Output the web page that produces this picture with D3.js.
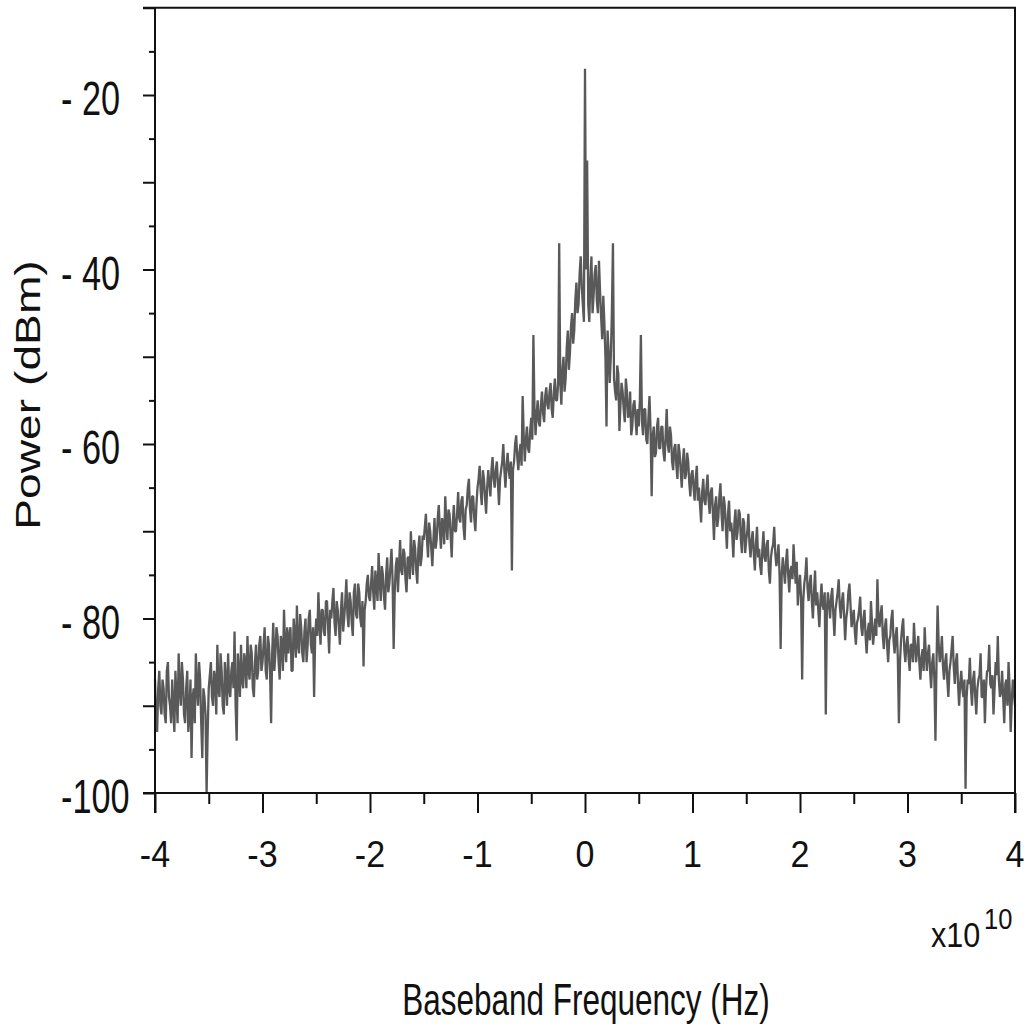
<!DOCTYPE html>
<html><head><meta charset="utf-8">
<script src="https://cdn.jsdelivr.net/npm/d3@7"></script>
<style>body{margin:0;background:#fff}</style>
</head><body>
<svg id="c" width="1029" height="1030"></svg>
<script>
const xTicks = [-4,-3,-2,-1,0,1,2,3,4];
const xMinorTicks = [-3.5,-2.5,-1.5,-0.5,0.5,1.5,2.5,3.5];
const yMajorTicks = [-10,-20,-30,-40,-50,-60,-70,-80,-90,-100];
const yMinorTicks = [-15,-25,-35,-45,-55,-65,-75,-85,-95];
const yLabelValues = [-20,-40,-60,-80,-100];
const yLabelText = ["- 20","- 40","- 60","- 80","-100"];
const xTitle = "Baseband Frequency (Hz)";
const yTitle = "Power (dBm)";
const freqStart = -4, freqStep = 0.02; // x 10^10 Hz
// power (dBm) at f = -4.00, -3.98, ..., 4.00
const power = [
-87,-93,-86,-91,-88,-92,-85,-90,-87,-93,-89,-84,-90,-87,-92,-86,-91,-96,-88,-84,-90,-87,-96,-89,-100,
-88,-85,-90,-87,-83,-89,-86,-91,-87,-84,-89,-85,-81.5,-94,-86,-83,-88,-85,-82,-87,-84,-89,-83,-86,-82,
-85,-81,-87,-83,-92,-80.5,-84,-82,-87,-83,-79,-85,-84,-81,-86,-82,-78.5,-84,-81,-85,-80,-83,-79,-84,-89,
-80,-77,-83,-79,-82,-78,-84,-80,-76.5,-82,-79,-83,-77,-80,-75.5,-81,-78,-82,-76,-80,-77,-81,-85.5,-78,-75,
-78,-74,-79,-76,-72.5,-78,-75,-79,-73,-76,-72,-83.5,-74,-77,-71,-75,-72.5,-77,-73,-70,-75,-72,-76,-70.5,-73,
-71,-68,-73,-70,-74,-68.5,-71,-67,-72,-69,-66,-71,-68,-73,-67,-70,-65.5,-69,-66,-71,-67,-64,-69,-66,-70,
-65,-62.5,-67,-64,-68,-63,-66,-61.5,-65,-62,-67,-63,-60,-65,-61,-64,-74.5,-62,-59,-63,-60,-54.5,-62,-58,-61,
-57,-47.5,-59,-55,-58,-54,-57.5,-53.5,-56,-53,-57,-52.5,-55,-37,-55.5,-50,-52.5,-47,-49.5,-45,-47,-41.5,-44,-38.5,-44,
-17,-27.5,-46,-38.5,-43,-39.5,-45,-42.5,-48,-46,-58,-49.5,-50,-37,-54,-51,-58.5,-53,-56,-52.5,-57,-54,-58,-55,-59,
-58,-47.5,-59,-56,-60,-54.5,-66,-58,-61,-57,-60.5,-58,-62,-56,-61,-59,-63,-60,-64,-61,-65,-60.5,-63.5,-62,-66,
-63,-66.5,-62.5,-65,-69,-64,-67,-63.5,-68,-65,-71,-66,-68.5,-64.5,-70,-67,-72,-66.5,-69,-73,-67.5,-70,-68,-72.5,-69,
-71,-68,-73,-70,-74.5,-69.5,-72,-75,-70,-73.5,-71,-76,-72,-69.5,-74,-71.5,-83.5,-73,-76,-72,-77,-74,-71.5,-76,-78.5,
-75,-87,-76,-73,-78,-75,-80,-74.5,-77,-81,-76,-79,-91,-77,-80,-76.5,-82,-78,-75.5,-80,-77,-82.5,-79,-76,-81,
-79,-83,-80,-77.5,-82,-79,-84,-80.5,-78,-83,-80,-75.5,-81,-78.5,-83.5,-80,-85,-82,-79,-84,-81,-92,-82.5,-80,-85,
-82,-86,-83,-80.5,-85,-82,-87,-83.5,-81,-86,-83,-88,-84,-94,-78.5,-85,-82,-87,-84,-89,-85,-82,-87.5,-84,-90,
-86,-89,-99.5,-87,-84.5,-90,-86,-91,-87,-84,-89,-92,-86,-83,-88,-91,-85,-82,-89,-86,-92,-87,-85,-93,-87,-90
];
// power (dBm) at the in-between frequencies f = -3.99, -3.97, ..., 3.99
const powerMid = [
-91,-88,-90,-87,-91,-86,-89,-92,-90,-86,-92,-88,-85,-91,-88,-93,-87,-89,-92,-88,-85,-92,-88,-91,-93,
-86.5,-89,-86,-91,-88,-84,-90,-85,-90,-88,-86,-88,-90,-84,-89,-87,-84,-88,-86,-83,-88,-85,-87,-83,-86,
-83,-86,-82,-86,-84,-86,-81,-85,-82,-86,-83,-81,-82,-86,-80,-84.5,-83,-79.5,-84,-81.5,-85,-80,-83,-81,-82,
-82,-80.5,-79,-81.5,-78,-81,-79,-78,-80.5,-78,-81,-79,-81.5,-78,-79.5,-77,-80.5,-77,-79.5,-76,-80,-78,-79,-76,-77.5,
-76,-77,-74.5,-78,-75.5,-74,-77.5,-75,-77,-74,-75.5,-77,-73,-74,-74.5,-72,-75.5,-73,-75.5,-73,-71,-74.5,-72,-74,-70.5,
-69.5,-71,-69,-72,-71,-72,-68.5,-70,-68.5,-71.5,-69,-67.5,-70.5,-69,-70,-68,-68.5,-66.5,-69.5,-67.5,-65,-67.5,-66,-68.5,-67,
-64,-65.5,-63,-66,-65,-64.5,-63,-64,-63,-64.5,-64,-62,-63,-62.5,-63,-62,-63,-60,-61.5,-61,-62.5,-59,-59.5,-60.5,-58.5,
-59.5,-56,-56.5,-57.5,-55.5,-56.5,-54.5,-55.5,-54,-56,-54,-55,-53,-53,-51.5,-54,-49,-51.5,-46.5,-48.5,-43.5,-45,-40.5,-42,-46,
-40,-44,-41,-45,-40.5,-43.5,-39,-45.5,-43,-50,-47,-53,-45,-52.5,-55,-52,-55.5,-54,-57.5,-54,-56.5,-59,-55.5,-57,-56,
-55,-57.5,-56,-59.5,-57,-58.5,-59,-61.5,-58,-60.5,-58,-61,-59,-60,-58,-62,-60.5,-62.5,-60,-63,-62,-64,-61,-64.5,-63.5,
-65,-64,-66.5,-67,-65.5,-66.5,-65,-66.5,-65.5,-68,-67,-69.5,-66,-68,-66,-69.5,-68,-70,-70.5,-69,-71,-67.5,-71,-68.5,-72.5,
-70,-71.5,-71,-72.5,-71.5,-73,-74,-72,-73,-71.5,-74.5,-73,-71.5,-72.5,-73,-75,-75,-74.5,-73.5,-75,-74.5,-75.5,-74,-73.5,-76.5,
-77.5,-78,-75,-76.5,-76,-78,-77,-78.5,-79,-78,-78.5,-77,-79,-78.5,-77.5,-79.5,-79,-77,-78.5,-78,-79.5,-80,-77,-78.5,-80,
-81.5,-80.5,-79,-81,-80,-82,-81.5,-82.5,-80.5,-81.5,-82,-80,-79.5,-82,-81,-83,-82.5,-80,-82.5,-82,-84.5,-85,-81,-83.5,-83,
-84.5,-83,-85,-83,-83.5,-85,-84.5,-86,-84,-84,-86,-85,-87,-85,-83,-84,-85.5,-85,-87,-86,-83.5,-85.5,-85,-87.5,-87.5,
-88,-87,-89,-87.5,-88,-87,-89,-88,-86.5,-89,-87,-88,-86,-87.5,-86.5,-88,-86.5,-87,-88.5,-89,-87.5,-90,-88,-89.5,-88.5
];

const svg = d3.select("#c");
const L = 155, R = 1015, T = 7.75, B = 793;
const x = d3.scaleLinear().domain([-4, 4]).range([L, R]);
const y = d3.scaleLinear().domain([-100, -10]).range([B, T]);
const ink = "#111";

const data = [];
power.forEach((p, i) => {
  const f = freqStart + i * freqStep;
  data.push({f, p});
  if (i < powerMid.length) data.push({f: f + freqStep / 2, p: powerMid[i]});
});

// data line
const line = d3.line().x(d => x(d.f)).y(d => y(d.p));
svg.append("path").datum(data)
  .attr("d", line)
  .attr("fill", "none")
  .attr("stroke", "#595959")
  .attr("stroke-width", 2.3)
  .attr("stroke-linejoin", "bevel");

// axes ticks
const gx = svg.append("g").attr("transform", `translate(0,${B})`)
  .call(d3.axisBottom(x).tickValues(xTicks).tickSize(20).tickFormat(""));
const gxm = svg.append("g").attr("transform", `translate(0,${B})`)
  .call(d3.axisBottom(x).tickValues(xMinorTicks).tickSize(11).tickFormat(""));
const gy = svg.append("g").attr("transform", `translate(${L},0)`)
  .call(d3.axisLeft(y).tickValues(yMajorTicks).tickSize(12).tickFormat(""));
const gym = svg.append("g").attr("transform", `translate(${L},0)`)
  .call(d3.axisLeft(y).tickValues(yMinorTicks).tickSize(6).tickFormat(""));
[gx, gxm, gy, gym].forEach(g => {
  g.select(".domain").remove();
  g.selectAll(".tick line").attr("stroke", ink).attr("stroke-width", 2);
});

// frame
const frame = svg.append("g").attr("stroke", ink).attr("stroke-width", 2).attr("fill", "none");
frame.append("line").attr("x1", L - 12).attr("x2", R + 1).attr("y1", B).attr("y2", B);
frame.append("line").attr("x1", L - 12).attr("x2", R + 1).attr("y1", T).attr("y2", T);
frame.append("line").attr("x1", L).attr("x2", L).attr("y1", T).attr("y2", B + 20);
frame.append("line").attr("x1", R).attr("x2", R).attr("y1", T).attr("y2", B + 20);

const font = "'Liberation Sans', Arial, sans-serif";

// x tick labels
xTicks.forEach(v => {
  svg.append("text")
    .attr("transform", `translate(${x(v)},867) scale(0.92,1)`)
    .attr("text-anchor", "middle")
    .attr("font-family", font).attr("font-size", 37).attr("fill", ink)
    .text(v);
});

// y tick labels
yLabelValues.forEach((v, i) => {
  svg.append("text")
    .attr("transform", `translate(61,${y(v) + 20}) scale(0.7,1)`)
    .attr("text-anchor", "start")
    .attr("font-family", font).attr("font-size", 49).attr("fill", ink)
    .text(yLabelText[i]);
});

// exponent
svg.append("text")
  .attr("transform", `translate(931,947) scale(0.85,1)`)
  .attr("font-family", font).attr("font-size", 36).attr("fill", ink)
  .text("x10");
svg.append("text")
  .attr("transform", `translate(984,929) scale(0.85,1)`)
  .attr("font-family", font).attr("font-size", 30).attr("fill", ink)
  .text("10");

// axis titles
svg.append("text")
  .attr("transform", `translate(586,1015) scale(0.7,1)`)
  .attr("text-anchor", "middle")
  .attr("font-family", font).attr("font-size", 45).attr("fill", ink)
  .text(xTitle);
svg.append("text")
  .attr("transform", `translate(40,395) rotate(-90) scale(1.32,1)`)
  .attr("text-anchor", "middle")
  .attr("font-family", font).attr("font-size", 35).attr("fill", ink)
  .text(yTitle);
</script>
</body></html>
